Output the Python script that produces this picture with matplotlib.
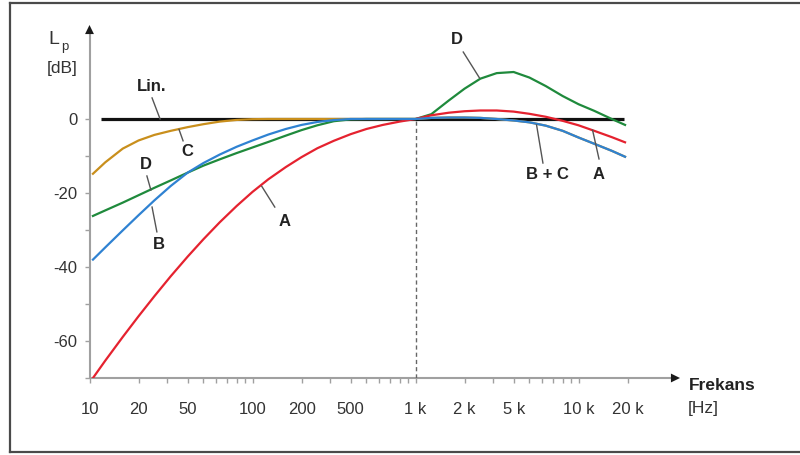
import numpy as np
import matplotlib
matplotlib.use("Agg")
import matplotlib.pyplot as plt
from matplotlib.ticker import FixedLocator, FixedFormatter, NullFormatter
from matplotlib.lines import Line2D

plt.rcParams['font.family'] = ['Liberation Sans', 'DejaVu Sans']

# Frequency grid (Hz) shared by the weighting curves
freq = [10.5, 12.5, 16, 20, 25, 31.5, 40, 50, 63, 80, 100, 125, 160, 200, 250,
        315, 400, 500, 630, 800, 1000, 1250, 1600, 2000, 2500, 3150, 4000,
        5000, 6300, 8000, 10000, 12500, 16000, 19300]

# Weighting responses in dB
a_db = [-70.0, -65.3, -58.9, -53.3, -47.9, -42.5, -37.2, -32.5, -27.9, -23.5,
        -19.7, -16.3, -13.0, -10.3, -7.9, -5.9, -4.1, -2.7, -1.6, -0.7, 0.0,
        1.0, 1.7, 2.1, 2.3, 2.3, 2.0, 1.4, 0.6, -0.5, -1.7, -3.2, -4.9, -6.3]
b_db = [-38.0, -34.7, -30.1, -26.0, -22.0, -18.1, -14.5, -11.9, -9.6, -7.5,
        -5.8, -4.2, -2.7, -1.6, -0.8, -0.3, 0.0, 0.0, 0.0, 0.0, 0.0,
        0.3, 0.4, 0.4, 0.3, 0.0, -0.4, -0.9, -1.8, -3.2, -5.0, -6.7, -8.6, -10.2]
c_db = [-14.8, -11.7, -8.0, -5.8, -4.3, -3.2, -2.2, -1.4, -0.7, -0.25,
        -0.05, 0.0, 0.0, 0.0, 0.0, 0.0, 0.0, 0.0, 0.0, 0.0, 0.0,
        0.3, 0.4, 0.4, 0.3, 0.0, -0.4, -0.9, -1.8, -3.2, -5.0, -6.7, -8.6, -10.2]
d_db = [-26.2, -24.7, -22.6, -20.6, -18.6, -16.6, -14.5, -12.6, -10.9, -9.2,
        -7.7, -6.2, -4.5, -3.0, -1.7, -0.6, -0.1, 0.0, 0.0, 0.0, 0.0,
        1.3, 5.0, 8.2, 10.9, 12.4, 12.7, 11.2, 8.9, 6.2, 4.0, 2.2, 0.0, -1.6]
lin_freq = [11.8, 19000]
lin_db = [0.0, 0.0]

# Axis labelling
x_tick_pos = [10, 20, 40, 100, 200, 400, 1000, 2000, 4000, 10000, 20000]
x_tick_txt = ['10', '20', '50', '100', '200', '500', '1 k', '2 k', '5 k', '10 k', '20 k']
y_tick_pos = [0, -20, -40, -60]
y_tick_txt = ['0', '-20', '-40', '-60']
y_minor_pos = [-10, -30, -50, -70]

RED = '#e5222f'
BLUE = '#2f82d2'
GREEN = '#1f8a3c'
ORANGE = '#c98f1c'
AXIS_GREY = '#a0a0a0'
TXT = '#222222'
LEADER = '#555555'

W, H = 800, 455
fig = plt.figure(figsize=(W / 100, H / 100), dpi=100)
fig.patch.set_facecolor('white')

# Axes box in pixel units: x from 89.5 to 680, y from 25 to 378 (top-down)
ax = fig.add_axes([89.5 / W, (H - 378) / H, (680 - 89.5) / W, (378 - 25) / H])
ax.set_xscale('log')
ax.set_xlim(10, 10 * 10 ** ((680 - 89.5) / 163))
ax.set_ylim(-70, -70 + (378 - 25) / 3.7)
for s in ax.spines.values():
    s.set_visible(False)
ax.patch.set_alpha(0)

# Axis lines with arrow heads
ax.plot([0, 0.99], [0, 0], transform=ax.transAxes, color=AXIS_GREY, lw=1.5,
        clip_on=False, zorder=1, solid_capstyle='butt')
ax.plot([0, 0], [0, 0.985], transform=ax.transAxes, color=AXIS_GREY, lw=1.5,
        clip_on=False, zorder=1, solid_capstyle='butt')
head = dict(arrowstyle='-|>,head_length=0.45,head_width=0.22', color='#1a1a1a',
            lw=0, shrinkA=0, shrinkB=0, mutation_scale=14.5)
ax.annotate('', xy=(1.0, 0), xytext=(0.95, 0), xycoords='axes fraction',
            arrowprops=head, annotation_clip=False)
ax.annotate('', xy=(0, 1.0), xytext=(0, 0.95), xycoords='axes fraction',
            arrowprops=head, annotation_clip=False)

# Ticks
minor_x = [m * 10 ** e for e in range(1, 5) for m in range(1, 10) if m * 10 ** e <= 20000]
ax.xaxis.set_major_locator(FixedLocator(x_tick_pos))
ax.xaxis.set_major_formatter(FixedFormatter(x_tick_txt))
ax.xaxis.set_minor_locator(FixedLocator(minor_x))
ax.xaxis.set_minor_formatter(NullFormatter())
ax.yaxis.set_major_locator(FixedLocator(y_tick_pos))
ax.yaxis.set_major_formatter(FixedFormatter(y_tick_txt))
ax.yaxis.set_minor_locator(FixedLocator(y_minor_pos))
ax.tick_params(axis='both', which='both', direction='out', length=3.6,
               width=1.0, color=AXIS_GREY, labelcolor='#333333', labelsize=12)
ax.tick_params(axis='x', which='major', pad=13.5)
ax.tick_params(axis='y', which='major', pad=5)

# 1 kHz reference line
ax.plot([1000, 1000], [-70, 0], color='#666666', lw=1.0, ls=(0, (3, 2.2)), zorder=2)

# Curves
ax.plot(lin_freq, lin_db, color='#111111', lw=2.3, zorder=3, solid_capstyle='butt')
ax.plot(freq, c_db, color=ORANGE, lw=1.6, zorder=4)
ax.plot(freq, d_db, color=GREEN, lw=1.6, zorder=5)
ax.plot(freq, a_db, color=RED, lw=1.6, zorder=6)
ax.plot(freq, b_db, color=BLUE, lw=1.6, zorder=7)

# Curve labels with leader lines: (text, text pos, leader start, leader end)
labels = [
    ('Lin.', (24.2, 8.9), (24.2, 5.7), (27.1, 0.0)),
    ('C', (39.7, -8.9), (37.5, -5.9), (35.4, -2.8)),
    ('D', (22.2, -12.4), (22.5, -15.4), (23.8, -19.2)),
    ('B', (26.7, -34.0), (25.9, -30.5), (24.2, -23.8)),
    ('A', (158, -27.6), (137, -23.8), (114, -18.2)),
    ('D', (1798, 21.6), (1963, 18.1), (2469, 11.1)),
    ('B + C', (6408, -15.1), (6050, -11.9), (5530, -1.6)),
    ('A', (13360, -15.1), (13360, -10.8), (12200, -3.0)),
]
for txt, tp, p0, p1 in labels:
    ax.plot([p0[0], p1[0]], [p0[1], p1[1]], color=LEADER, lw=1.0, zorder=8)
    ax.text(tp[0], tp[1], txt, ha='center', va='center', fontsize=12,
            fontweight='bold', color=TXT, zorder=9)

# Axis titles
fig.text(48 / W, 1 - 40 / H, 'L', fontsize=14, color='#333333', ha='left', va='center')
fig.text(61 / W, 1 - 47 / H, 'p', fontsize=9.5, color='#333333', ha='left', va='center')
fig.text(62 / W, 1 - 69 / H, '[dB]', fontsize=12.5, color='#333333', ha='center', va='center')
fig.text(689 / W, 1 - 386 / H, 'Frekans', fontsize=12.5, fontweight='bold',
         color=TXT, ha='left', va='center')
fig.text(688 / W, 1 - 408 / H, '[Hz]', fontsize=12.5, color='#333333', ha='left', va='center')

# Outer frame
fc = '#4a4a4a'
for xs, ys in [([10, W], [2.5, 2.5]), ([10, 10], [2.5, 452]), ([10, W], [452, 452])]:
    fig.add_artist(Line2D([x / W for x in xs], [1 - y / H for y in ys],
                          color=fc, lw=1.6, transform=fig.transFigure))

fig.savefig('out.png', dpi=100)
